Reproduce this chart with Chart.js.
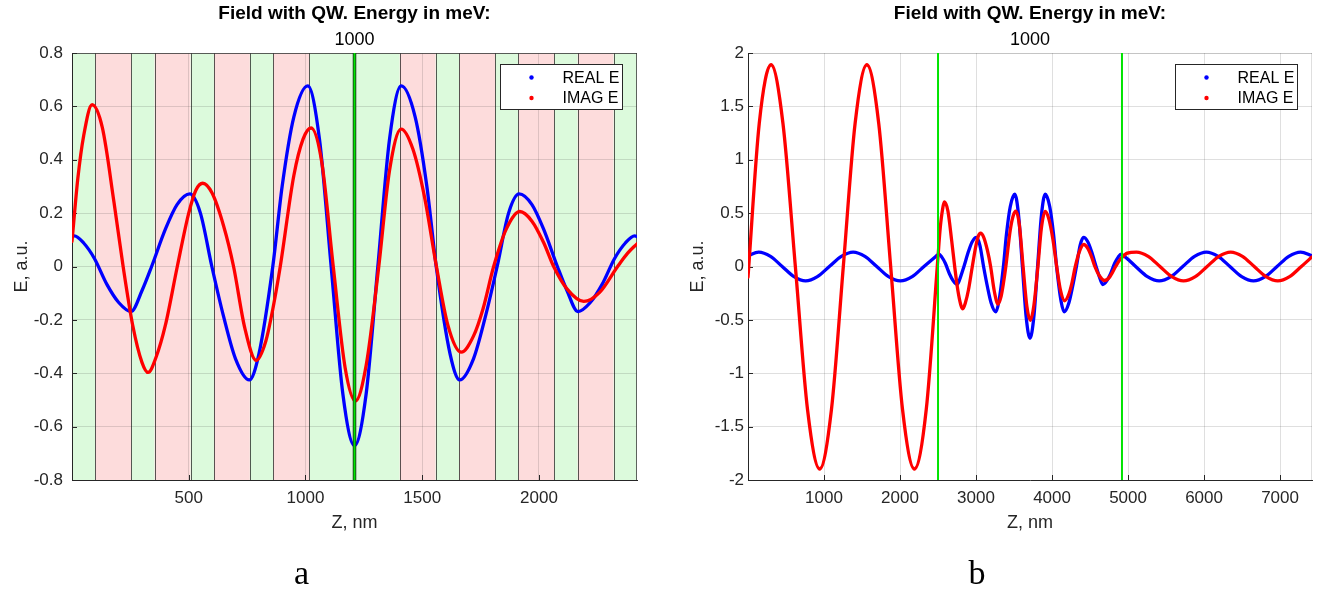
<!DOCTYPE html>
<html>
<head>
<meta charset="utf-8">
<script src="https://cdn.jsdelivr.net/npm/chart.js@4.4.1/dist/chart.umd.min.js"></script>
<style>
  html, body { margin: 0; padding: 0; background: #fff; }
  #wrap { position: relative; width: 1333px; height: 591px; overflow: hidden; }
  canvas { position: absolute; top: 0; }
  #fieldA { left: 0; }
  #fieldB { left: 667px; }
</style>
</head>
<body>
<div id="wrap">
  <canvas id="fieldA" width="667" height="591"></canvas>
  <canvas id="fieldB" width="666" height="591"></canvas>
</div>
<script>
// ---- axes ----
const zTicksA = [500, 1000, 1500, 2000];
const eTicksA = [-0.8, -0.6, -0.4, -0.2, 0, 0.2, 0.4, 0.6, 0.8];
const zTicksB = [1000, 2000, 3000, 4000, 5000, 6000, 7000];
const eTicksB = [-2, -1.5, -1, -0.5, 0, 0.5, 1, 1.5, 2];

// ---- layer stack (nm), 'g' = green layer, 'r' = red layer ----
const layerEdges = [0, 100, 254, 354, 508, 608, 762, 862, 1016, 1210, 1404, 1558, 1658, 1812, 1912, 2066, 2166, 2320, 2420];
const layerKind = ['g', 'r', 'g', 'r', 'g', 'r', 'g', 'r', 'g', 'g', 'r', 'g', 'r', 'g', 'r', 'g', 'r', 'g'];
const qwPos = [1210];            // quantum well
const stackEnds = [2500, 4920];  // stack borders in the wide view
const stackShift = 2500;         // stack start in the wide view

// ---- field inside the stack ----
const realZ = [0, 10, 50, 96, 150, 200, 253, 300, 341, 400, 450, 505, 550, 599, 650, 700, 759, 800, 860, 900,
  950, 1010, 1060, 1110, 1160, 1210, 1260, 1310, 1360, 1410, 1470, 1520, 1560, 1620, 1661, 1720, 1770, 1821, 1870, 1915,
  1970, 2020, 2079, 2120, 2167, 2220, 2270, 2324, 2370, 2410, 2420];
const realE = [0.112, 0.115, 0.088, 0.03, -0.068, -0.135, -0.169, -0.09, 0, 0.14, 0.232, 0.272, 0.2, 0, -0.19, -0.345, -0.425, -0.33, 0, 0.3,
  0.56, 0.677, 0.477, 0, -0.477, -0.672, -0.477, 0, 0.477, 0.677, 0.56, 0.3, 0, -0.33, -0.425, -0.345, -0.19, 0, 0.2, 0.272,
  0.232, 0.14, 0, -0.09, -0.169, -0.135, -0.068, 0.03, 0.088, 0.115, 0.112];

const imagZ = [0, 25, 50, 86, 130, 180, 219, 260, 300, 326, 360, 400, 451, 500, 530, 560, 600, 650, 692, 740,
  789, 830, 860, 892, 950, 990, 1024, 1070, 1119, 1170, 1214, 1260, 1314, 1360, 1410, 1460, 1510, 1561, 1610, 1667,
  1720, 1760, 1806, 1860, 1918, 1970, 2020, 2063, 2120, 2192, 2260, 2337, 2380, 2420];
const imagE = [0.094, 0.33, 0.49, 0.606, 0.52, 0.24, 0, -0.22, -0.36, -0.397, -0.34, -0.22, 0, 0.2, 0.285, 0.312, 0.275, 0.15, 0, -0.23,
  -0.352, -0.28, -0.16, 0, 0.34, 0.478, 0.519, 0.39, 0, -0.38, -0.504, -0.37, 0, 0.36, 0.515, 0.44, 0.26, 0, -0.22, -0.321,
  -0.26, -0.16, 0, 0.14, 0.206, 0.17, 0.09, 0, -0.084, -0.131, -0.097, 0, 0.05, 0.085];

// ---- field outside the stack (wide view) ----
const realLeftZ = [0, 141, 296, 450, 605, 758, 913, 1070, 1228, 1383, 1538, 1694, 1849, 2004, 2160, 2315, 2470];
const realLeftE = [0.1, 0.135, 0.095, 0, -0.095, -0.135, -0.095, 0, 0.095, 0.135, 0.095, 0, -0.095, -0.135, -0.095, 0, 0.094];
const imagLeftZ = [0, 148, 304, 460, 623, 783, 943, 1098, 1254, 1409, 1564, 1720, 1877, 2033, 2189, 2345];
const imagLeftE = [-0.1, 1.34, 1.89, 1.34, 0, -1.34, -1.897, -1.34, 0, 1.34, 1.89, 1.34, 0, -1.34, -1.897, -1.34];

const realRightZ = [5010, 5100, 5255, 5410, 5565, 5720, 5875, 6030, 6185, 6340, 6495, 6650, 6805, 6960, 7115, 7270, 7420];
const realRightE = [0.06, 0, -0.095, -0.135, -0.095, 0, 0.095, 0.135, 0.095, 0, -0.095, -0.135, -0.095, 0, 0.095, 0.135, 0.1];
const imagRightZ = [4990, 5110, 5265, 5420, 5575, 5730, 5885, 6040, 6195, 6350, 6505, 6660, 6815, 6970, 7125, 7280, 7420];
const imagRightE = [0.125, 0.135, 0.095, 0, -0.095, -0.135, -0.095, 0, 0.095, 0.135, 0.095, 0, -0.095, -0.135, -0.095, 0, 0.09];

const SANS = "'Liberation Sans', Arial, Helvetica, sans-serif";
const SERIF = "'Liberation Serif', 'DejaVu Serif', serif";
const AXIS = '#262626';
const GRID = 'rgba(38,38,38,0.15)';

function pts(zs, es, shift = 0) {
  return zs.map((z, i) => ({ x: z + shift, y: es[i] }));
}

// bands, layer borders, marker lines, legend and text around the axes
const fieldPlot = {
  id: 'fieldPlot',
  beforeDraw(chart, args, o) {
    if (!o.layers) return;
    const { ctx, chartArea: a, scales: { x } } = chart;
    ctx.save();
    for (let i = 0; i < o.layers.kind.length; i++) {
      const x0 = x.getPixelForValue(o.layers.edges[i]);
      const x1 = x.getPixelForValue(o.layers.edges[i + 1]);
      ctx.fillStyle = o.layers.kind[i] === 'g' ? '#dcfadc' : '#fddcdc';
      ctx.fillRect(x0, a.top, x1 - x0, a.bottom - a.top);
    }
    ctx.restore();
  },
  beforeDatasetsDraw(chart, args, o) {
    const { ctx, chartArea: a, scales: { x, y } } = chart;
    ctx.save();
    ctx.lineWidth = 1;
    if (o.layers) {
      ctx.strokeStyle = 'rgba(20,20,20,0.7)';
      o.layers.edges.slice(1, -1).forEach(z => {
        const px = Math.round(x.getPixelForValue(z)) + 0.5;
        ctx.beginPath(); ctx.moveTo(px, a.top); ctx.lineTo(px, a.bottom); ctx.stroke();
      });
    }
    // top and right frame
    ctx.strokeStyle = o.frame;
    ctx.beginPath();
    ctx.moveTo(a.left, a.top + 0.5); ctx.lineTo(a.right, a.top + 0.5);
    ctx.moveTo(a.right - 0.5, a.top); ctx.lineTo(a.right - 0.5, a.bottom);
    ctx.stroke();
    // inward tick marks
    ctx.strokeStyle = AXIS;
    ctx.beginPath();
    x.ticks.forEach(t => {
      const px = Math.round(x.getPixelForValue(t.value)) + 0.5;
      ctx.moveTo(px, a.bottom); ctx.lineTo(px, a.bottom - 5);
    });
    y.ticks.forEach(t => {
      const py = Math.round(y.getPixelForValue(t.value)) + 0.5;
      ctx.moveTo(a.left, py); ctx.lineTo(a.left + 5, py);
    });
    ctx.stroke();
    ctx.restore();
  },
  afterDatasetsDraw(chart, args, o) {
    const { ctx, chartArea: a, scales: { x } } = chart;
    ctx.save();
    o.marks.forEach(z => {
      const px = x.getPixelForValue(z);
      if (o.outlineMarks) {
        ctx.strokeStyle = '#1a1a1a'; ctx.lineWidth = 3.5;
        ctx.beginPath(); ctx.moveTo(px, a.top); ctx.lineTo(px, a.bottom); ctx.stroke();
      }
      ctx.strokeStyle = '#00e400'; ctx.lineWidth = 2;
      ctx.beginPath(); ctx.moveTo(px, a.top); ctx.lineTo(px, a.bottom); ctx.stroke();
    });

    // legend box
    const bw = 122, bh = 45;
    const bx = Math.round(a.right - 15 - bw) + 0.5, by = Math.round(a.top + 11) + 0.5;
    ctx.fillStyle = '#fff';
    ctx.fillRect(bx, by, bw, bh);
    ctx.strokeStyle = AXIS; ctx.lineWidth = 1;
    ctx.strokeRect(bx, by, bw, bh);
    chart.data.datasets.slice().reverse().forEach((ds, i) => {
      const cy = by + 13 + i * 20.5;
      ctx.fillStyle = ds.borderColor;
      ctx.beginPath(); ctx.arc(bx + 31, cy, 2.2, 0, Math.PI * 2); ctx.fill();
      ctx.fillStyle = '#000';
      ctx.font = `16px ${SANS}`;
      ctx.textAlign = 'left'; ctx.textBaseline = 'middle';
      ctx.fillText(ds.label, bx + 62, cy + 1);
    });
    ctx.restore();
  },
  afterDraw(chart, args, o) {
    const { ctx, chartArea: a } = chart;
    const cx = (a.left + a.right) / 2;
    ctx.save();
    ctx.textAlign = 'center'; ctx.textBaseline = 'middle';
    ctx.fillStyle = '#000';
    ctx.font = `bold 19px ${SANS}`;
    ctx.fillText(o.title, cx, 14);
    ctx.font = `18px ${SANS}`;
    ctx.fillText(o.subtitle, cx, 40);
    ctx.fillStyle = AXIS;
    ctx.fillText(o.xTitle, cx, 523);
    ctx.save();
    ctx.translate(a.left - 50, (a.top + a.bottom) / 2);
    ctx.rotate(-Math.PI / 2);
    ctx.fillText(o.yTitle, 0, 0);
    ctx.restore();
    ctx.fillStyle = '#000';
    ctx.font = `34px ${SERIF}`;
    ctx.fillText(o.letter, cx - 53, 575);
    ctx.restore();
  }
};

function makeChart(canvasId, cfg) {
  const tickFont = { family: SANS, size: 17 };
  const line = {
    pointRadius: 0, borderWidth: 3.3, cubicInterpolationMode: 'monotone',
    borderCapStyle: 'round', borderJoinStyle: 'round'
  };
  return new Chart(document.getElementById(canvasId), {
    type: 'line',
    data: {
      datasets: [
        { label: 'IMAG E', data: cfg.imag, order: 0, borderColor: '#ff0000', ...line },
        { label: 'REAL E', data: cfg.real, order: 1, borderColor: '#0000ff', ...line }
      ]
    },
    options: {
      responsive: false,
      animation: false,
      devicePixelRatio: 1,
      layout: { padding: { left: 0, top: 53, right: cfg.padRight, bottom: 51 } },
      plugins: {
        legend: { display: false },
        tooltip: { enabled: false },
        fieldPlot: {
          layers: cfg.layers, marks: cfg.marks, outlineMarks: cfg.outlineMarks, frame: cfg.frame,
          title: 'Field with QW. Energy in meV:', subtitle: '1000',
          xTitle: 'Z, nm', yTitle: 'E, a.u.', letter: cfg.letter
        }
      },
      scales: {
        x: {
          type: 'linear', bounds: 'data', min: cfg.xMin, max: cfg.xMax,
          afterBuildTicks: s => { s.ticks = cfg.xTicks.map(v => ({ value: v })); },
          afterFit: s => { s.height = 60; },
          ticks: { font: tickFont, color: AXIS, padding: 8, maxRotation: 0, autoSkip: false, callback: v => String(v) },
          grid: { color: GRID, drawTicks: false },
          border: { color: AXIS, width: 1 }
        },
        y: {
          type: 'linear', bounds: 'data', min: cfg.yMin, max: cfg.yMax,
          afterBuildTicks: s => { s.ticks = cfg.yTicks.map(v => ({ value: v })); },
          afterFit: s => { s.width = cfg.yWidth; },
          ticks: { font: tickFont, color: AXIS, padding: cfg.yPad, autoSkip: false, callback: v => String(v) },
          grid: { color: GRID, drawTicks: false },
          border: { color: AXIS, width: 1 }
        }
      }
    },
    plugins: [fieldPlot]
  });
}

// stack only
makeChart('fieldA', {
  real: pts(realZ, realE),
  imag: pts(imagZ, imagE),
  xMin: 0, xMax: 2420, yMin: -0.8, yMax: 0.8,
  xTicks: zTicksA, yTicks: eTicksA,
  layers: { edges: layerEdges, kind: layerKind },
  marks: qwPos, outlineMarks: true, frame: 'rgba(60,60,60,0.8)',
  yWidth: 72, yPad: 9, padRight: 30, letter: 'a'
});

// stack with surroundings
makeChart('fieldB', {
  real: [...pts(realLeftZ, realLeftE), ...pts(realZ, realE, stackShift), ...pts(realRightZ, realRightE)],
  imag: [...pts(imagLeftZ, imagLeftE), ...pts(imagZ, imagE, stackShift), ...pts(imagRightZ, imagRightE)],
  xMin: 0, xMax: 7420, yMin: -2, yMax: 2,
  xTicks: zTicksB, yTicks: eTicksB,
  layers: null,
  marks: stackEnds, outlineMarks: false, frame: GRID,
  yWidth: 81, yPad: 4, padRight: 21, letter: 'b'
});
</script>
</body>
</html>
